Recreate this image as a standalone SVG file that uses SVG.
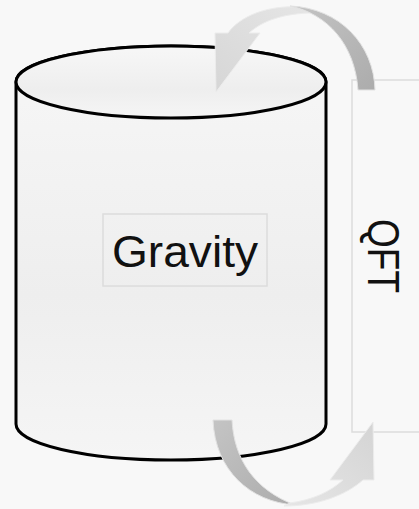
<svg xmlns="http://www.w3.org/2000/svg" width="419" height="509" viewBox="0 0 419 509">
  <defs>
    <linearGradient id="cylFill" x1="0" y1="0" x2="0" y2="1">
      <stop offset="0" stop-color="#f7f7f7"/>
      <stop offset="0.6" stop-color="#eeeeee"/>
      <stop offset="1" stop-color="#f5f5f5"/>
    </linearGradient>
    <linearGradient id="darkBand" x1="0" y1="0" x2="1" y2="1">
      <stop offset="0" stop-color="#c4c4c4"/>
      <stop offset="1" stop-color="#acacac"/>
    </linearGradient>
    <linearGradient id="lightTop" x1="1" y1="0" x2="0" y2="1">
      <stop offset="0" stop-color="#e6e6e6"/>
      <stop offset="1" stop-color="#d6d6d6"/>
    </linearGradient>
    <linearGradient id="lightBot" x1="0" y1="1" x2="1" y2="0">
      <stop offset="0" stop-color="#e6e6e6"/>
      <stop offset="1" stop-color="#d4d4d4"/>
    </linearGradient>
    <style>
      .cyl { fill: url(#cylFill); stroke: #000; stroke-width: 3; }
      .box { fill: none; stroke: #dcdcdc; stroke-width: 1.5; }
      .lbl { font-family: "Liberation Sans", Arial, sans-serif; font-size: 44px; fill: #111; }
      .band { fill: url(#darkBand); stroke: #e2e2e2; stroke-width: 1; }
      .edge { stroke: #ececec; stroke-width: 1; }
    </style>
  </defs>
  <rect x="0" y="0" width="419" height="509" fill="#f8f8f8"/>

  <g id="qft">
    <rect class="box" x="352" y="80" width="80" height="352"/>
    <text class="lbl" transform="translate(368,256) rotate(90)" x="0" y="0" text-anchor="middle" textLength="74" lengthAdjust="spacingAndGlyphs">QFT</text>
  </g>

  <g id="gravity">
    <path class="cyl" d="M16 82 L16 424 A155 36 0 0 0 326 424 L326 82 A155 36 0 0 0 16 82 Z"/>
    <ellipse class="cyl" cx="171" cy="82" rx="155" ry="36"/>
    <rect class="box" x="103" y="214" width="164" height="72"/>
    <text class="lbl" x="185" y="267" text-anchor="middle" textLength="146" lengthAdjust="spacingAndGlyphs">Gravity</text>
  </g>

  <g id="connectors">
    <!-- top curved arrow (QFT -> Gravity) -->
    <path class="edge" fill="url(#lightTop)" d="M300 7 C268 5 240 16 228 33 L215 33 L216 92 L260 33 L249 33 C263 20 287 12 320 13 Z"/>
    <path class="band" d="M358 90 L375 90 C374 45 340 8 290 6 C328 14 355 45 358 90 Z"/>
    <!-- bottom curved arrow (Gravity -> QFT) -->
    <path class="band" d="M213 420 L232 420 C234 460 255 490 295 505 C250 502 215 470 213 420 Z"/>
    <path class="edge" fill="url(#lightBot)" d="M284 506 C318 506 346 495 363 480 L374 480 L373 422 L330 480 L343 480 C330 492 312 500 290 503 Z"/>
  </g>
</svg>
